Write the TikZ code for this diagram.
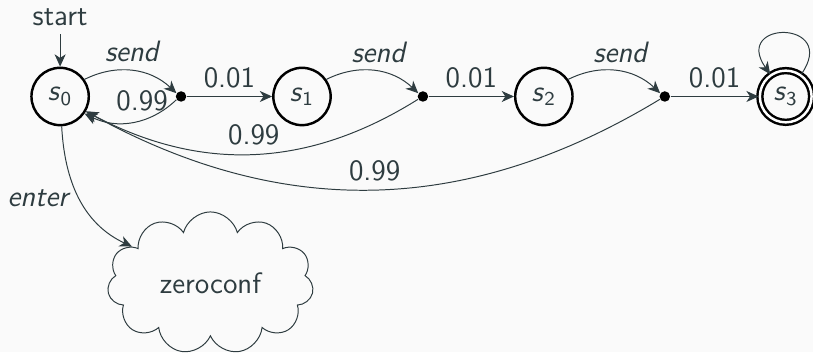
\documentclass[tikz,border=0pt]{standalone}
\usepackage{tikz}
\usetikzlibrary{shapes.symbols, arrows.meta, positioning}
\renewcommand{\familydefault}{\sfdefault}
\definecolor{ink}{RGB}{46,60,64}
\definecolor{bgcol}{RGB}{250,250,250}
\newcommand{\sname}[1]{\textit{s}\textsubscript{#1}}
\tikzset{
    loc/.style={circle, draw=black, line width=1pt, minimum size=0.82cm, inner sep=0pt, text=ink, font=\large},
    fin/.style={loc, double, double distance=1pt, minimum size=0.74cm},
    dist/.style={circle, fill=black, inner sep=0pt, minimum size=1.5mm},
    arrow/.style={ink, ->, >={Stealth[length=5pt, width=4.5pt, inset=1.5pt]}},
    lbl/.style={text=ink, font=\large},
    cloudnode/.style={cloud, cloud puffs=11, draw=ink, aspect=1.5, minimum width=2.95cm, minimum height=1.9cm, text=ink, font=\large}
}

\begin{document}
\begin{tikzpicture}[node distance=1.73cm, on grid]
        \fill [bgcol] (0,0) rectangle (11.63,-5.04);
        \useasboundingbox (0,0) rectangle (11.63,-5.04);

        \node (s0) [loc] at (0.86,-1.38) {\sname{0}};
        \node (d1) [dist, right=of s0] {};
        \node (s1) [loc, right=of d1] {\sname{1}};
        \node (d2) [dist, right=of s1] {};
        \node (s2) [loc, right=of d2] {\sname{2}};
        \node (d3) [dist, right=of s2] {};
        \node (s3) [fin, right=of d3] {\sname{3}};

        \node (start) [lbl, above=1.14cm of s0] {start};
        \node (zero) [cloudnode, below right=2.67cm and 2.15cm of s0] {zeroconf};

        \draw [arrow] (start) -- (s0);
        \draw [arrow] (s0) to [bend left=35] node[lbl, above] {\textit{send}} (d1);
        \draw [arrow] (d1) to [bend left=35] node[lbl, above, pos=0.4] {0.99} (s0);
        \draw [arrow] (d1) -- node[lbl, above] {0.01} (s1);
        \draw [arrow] (s1) to [bend left=35] node[lbl, above, pos=0.55] {\textit{send}} (d2);
        \draw [arrow] (d2) to [bend left=30] node[lbl, above] {0.99} (s0);
        \draw [arrow] (d2) -- node[lbl, above] {0.01} (s2);
        \draw [arrow] (s2) to [bend left=35] node[lbl, above, pos=0.55] {\textit{send}} (d3);
        \draw [arrow] (d3) to [bend left=30] node[lbl, above] {0.99} (s0);
        \draw [arrow] (d3) -- node[lbl, above] {0.01} (s3);
        \draw [arrow] (s3) to [out=55, in=125, looseness=5.5] (s3);
        \draw [arrow] (s0) to [out=-87, in=155] node[lbl, left, pos=0.5] {\textit{enter}} (zero);
    \end{tikzpicture}
\end{document}
